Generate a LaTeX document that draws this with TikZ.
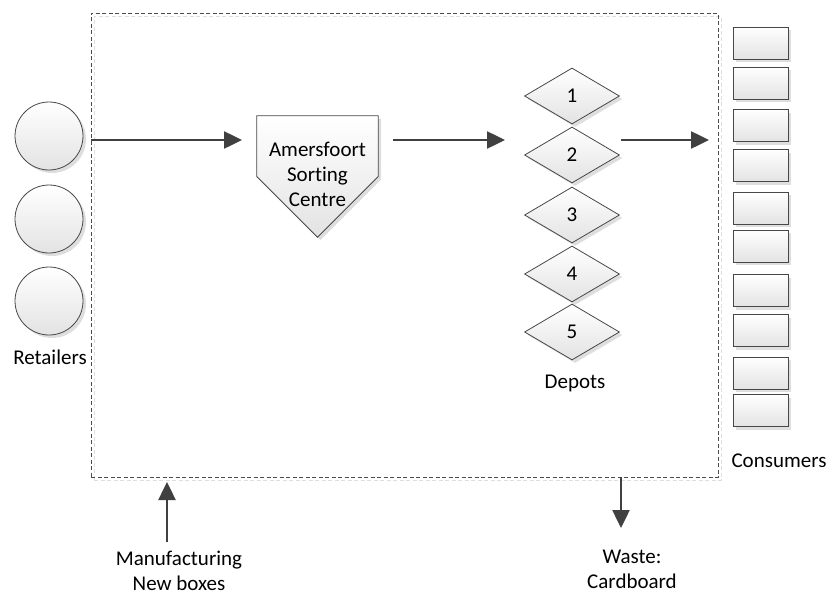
\documentclass[tikz,border=0pt]{standalone}
\usepackage{fontspec}
\setmainfont{Carlito}[Ligatures={NoCommon}]
\usetikzlibrary{shapes.geometric,shadows,arrows.meta,calc}
\begin{document}
\begin{tikzpicture}[x=1pt,y=-1pt,
  lbl/.style={font=\fontsize{21}{25}\selectfont, align=center, inner sep=0pt},
  shp/.style={draw=black!72, line width=0.8pt, top color=white, bottom color=black!11,
    general shadow={fill=black!13, shadow xshift=3pt, shadow yshift=-3pt}},
  flow/.style={draw=black!75, line width=2.5pt, -{Triangle[length=18pt,width=17pt]}},
  retail/.style={shp, circle, minimum size=68pt, inner sep=0pt},
  depot/.style={shp, diamond, minimum width=95pt, minimum height=56pt, inner sep=0pt, lbl},
  consumer/.style={shp, rectangle, minimum width=55pt, minimum height=32pt, inner sep=0pt},
  sysbox/.style={draw=black!70, line width=0.8pt, dash pattern=on 4pt off 2.5pt,
    minimum width=627pt, minimum height=464pt, inner sep=0pt,
    general shadow={draw=black!13, dash pattern=on 4pt off 2.5pt, shadow xshift=3pt, shadow yshift=-3pt}},
]
\useasboundingbox (0,0) rectangle (830,597);

% system boundary
\node[sysbox] (sys) at (404.5,245) {};

% retailers
\node[retail] (r1) at (49,136) {};
\node[retail] (r2) at (49,219) {};
\node[retail] (r3) at (49,301) {};
\node[lbl] (rl) at (50,357) {Retailers};

% sorting centre
\node[minimum width=121pt, minimum height=121pt, inner sep=0pt] (sc) at (317.5,176.5) {};
\path[shp] (sc.north west) -- (sc.north east) -- (sc.east) -- (sc.south) -- (sc.west) -- cycle;
\node[lbl] (sct) at (317.5,174) {Amersfoort\\Sorting\\Centre};

% depots
\node[depot] (d1) at (572,96) {1};
\node[depot] (d2) at (572,155) {2};
\node[depot] (d3) at (572,215) {3};
\node[depot] (d4) at (572,274) {4};
\node[depot] (d5) at (572,332) {5};
\node[lbl] (dl) at (575,383) {Depots};

% consumers
\foreach \i/\y in {1/43,2/83,3/125.5,4/165.5,5/208,6/246,7/290.5,8/330.5,9/373,10/410.5}
  \node[consumer] (c\i) at (760.5,\y) {};
\node[lbl] (cl) at (779,461) {Consumers};

% bottom labels
\node[lbl] (mfg) at (179,571) {Manufacturing\\New boxes};
\node[lbl] (waste) at (632,569) {Waste:\\Cardboard};

% connector ends
\coordinate (a1s) at (91,140);
\coordinate (a1e) at (242,140);
\coordinate (a2s) at (393,140);
\coordinate (a2e) at (505,140);
\coordinate (a3s) at (621,140);
\coordinate (a3e) at (709,140);
\coordinate (mfs) at (167,542);
\coordinate (mfe) at (167,482);
\coordinate (wss) at (621,477);
\coordinate (wse) at (621,528);

\draw[flow] (a1s) -- (a1e);
\draw[flow] (a2s) -- (a2e);
\draw[flow] (a3s) -- (a3e);
\draw[flow] (mfs) -- (mfe);
\draw[flow] (wss) -- (wse);
\end{tikzpicture}
\end{document}
